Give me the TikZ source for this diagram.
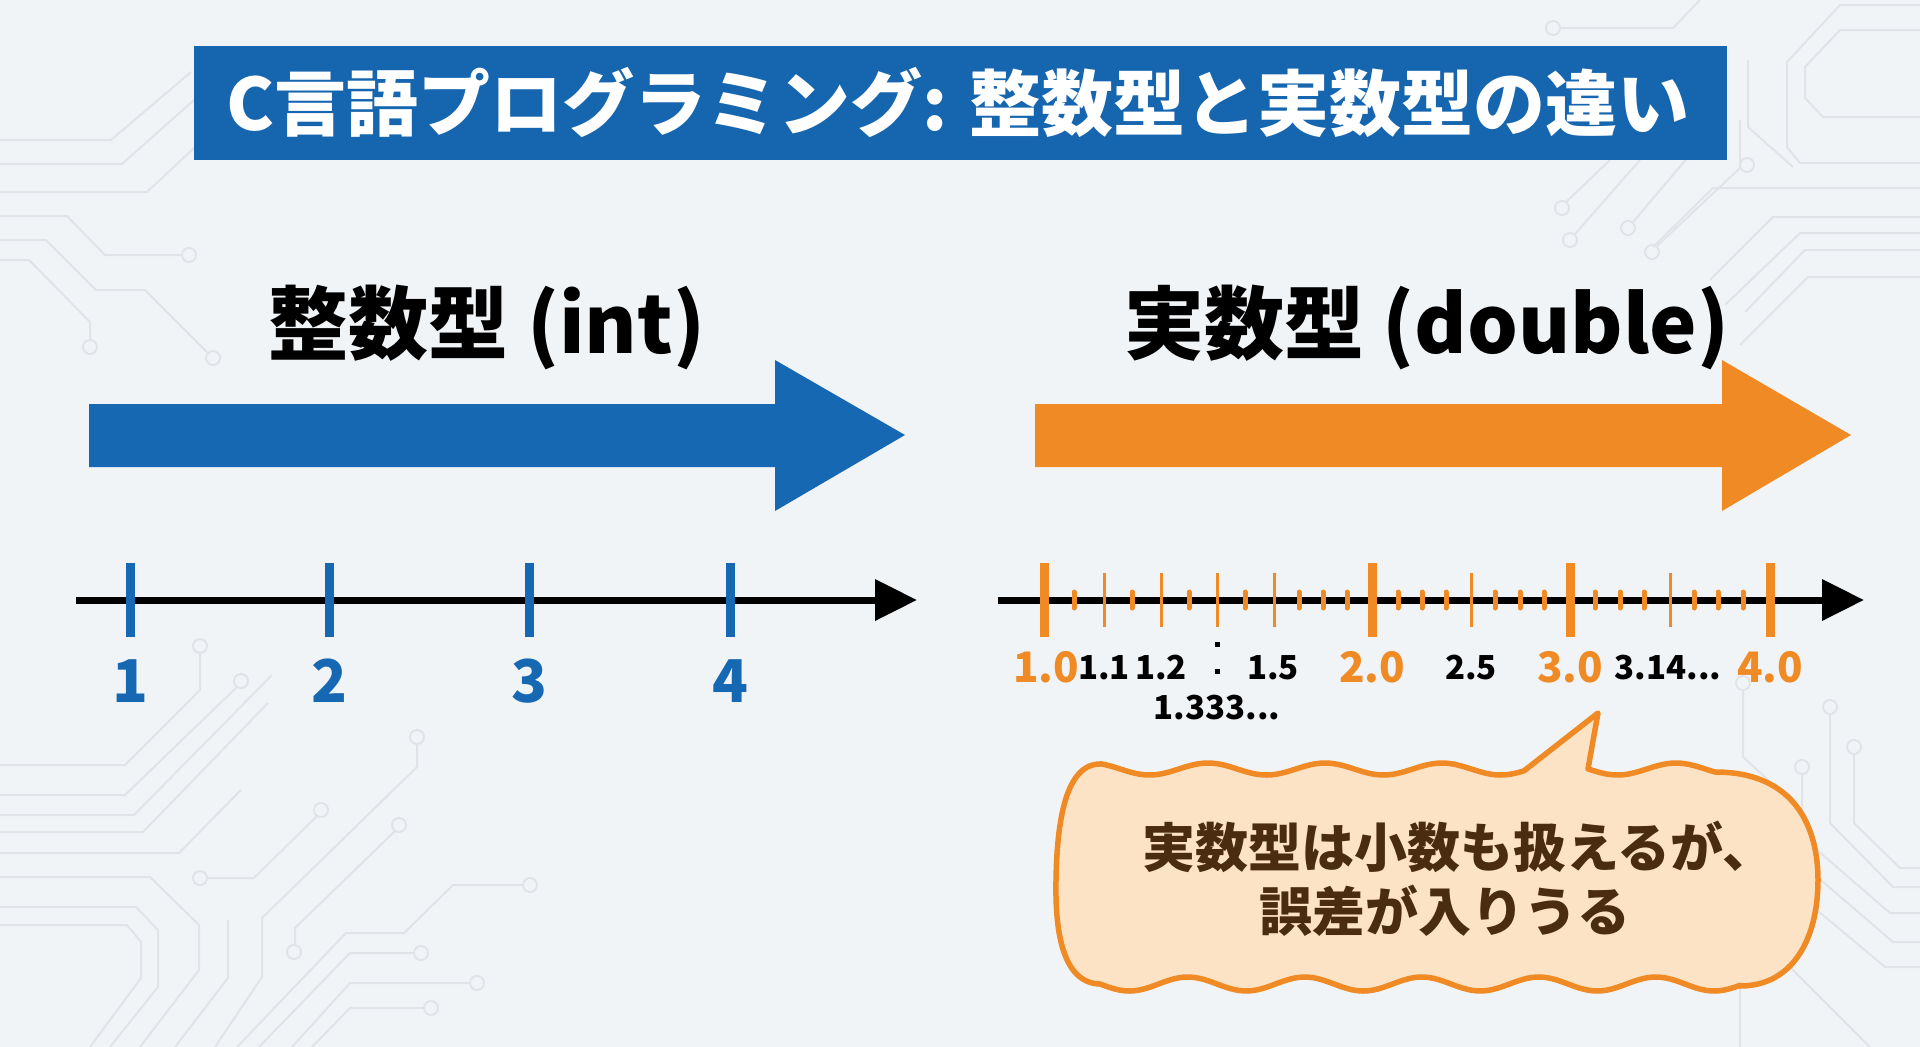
\documentclass[tikz,border=0pt]{standalone}
\usepackage{fontspec}
\setmainfont{Noto Sans CJK JP}
\usetikzlibrary{arrows.meta}
\definecolor{bg}{HTML}{F1F4F7}
\definecolor{trace}{HTML}{E0E4E9}
\definecolor{cblue}{HTML}{1668B3}
\definecolor{tblue}{HTML}{1565AF}
\definecolor{corange}{HTML}{EF8A24}
\definecolor{cfill}{HTML}{FDE3C5}
\definecolor{cbrown}{HTML}{4A2D10}
\tikzset{
  trace/.style={draw=trace, line width=2, line join=round},
  pad/.style={draw=trace, line width=2, fill=bg},
  axisline/.style={line width=7, -{Triangle[length=42pt,width=40pt]}},
  bigtick/.style={line width=9},
  midtick/.style={corange, line width=3},
  smalltick/.style={corange, line width=5, line cap=round},
  intlabel/.style={anchor=base, text=cblue, font=\fontsize{59}{64}\selectfont\bfseries, inner sep=0},
  orlabel/.style={anchor=base, text=corange, font=\fontsize{42}{46}\selectfont\bfseries, inner sep=0},
  bklabel/.style={anchor=base, text=black, font=\fontsize{33}{36}\selectfont\bfseries, inner sep=0},
  heading/.style={anchor=base, text=black, font=\fontsize{80}{90}\selectfont\bfseries, inner sep=0},
  calltext/.style={anchor=base, text=cbrown, inner sep=0, font=\fontsize{53}{58}\selectfont\bfseries},
}
\begin{document}
\begin{tikzpicture}[x=1pt,y=-1pt]
\fill[bg] (0,0) rectangle (1920,1047);
\useasboundingbox (0,0) rectangle (1920,1047);

% ---- faint circuit traces ----
% top left
\draw[trace] (0,140) -- (111,140) -- (191,72);
\draw[trace] (0,164) -- (122,164) -- (194,100);
\draw[trace] (0,192) -- (147,192) -- (194,148);
\draw[trace] (0,216) -- (67,216) -- (105,255) -- (182,255);
\draw[pad] (189,255) circle (7);
\draw[trace] (0,240) -- (46,240) -- (96,290) -- (145,290) -- (207,352);
\draw[pad] (213,358) circle (7);
\draw[trace] (0,260) -- (29,260) -- (90,322) -- (90,340);
\draw[pad] (90,347) circle (7);
% bottom left
\draw[trace] (200,653) -- (200,690) -- (125,765) -- (0,765);
\draw[pad] (200,646) circle (7);
\draw[trace] (237,687) -- (125,795) -- (0,795);
\draw[pad] (241,681) circle (7);
\draw[trace] (272,675) -- (134,815) -- (0,815);
\draw[trace] (268,703) -- (143,832) -- (0,832);
\draw[trace] (241,790) -- (179,853) -- (0,853);
\draw[trace] (0,877) -- (150,877) -- (199,925) -- (199,970) -- (140,1047);
\draw[trace] (0,907) -- (136,907) -- (158,930) -- (158,987) -- (110,1047);
\draw[trace] (0,925) -- (127,925) -- (141,942) -- (141,978) -- (90,1047);
\draw[trace] (207,878) -- (254,878) -- (317,816);
\draw[pad] (200,878) circle (7); \draw[pad] (321,810) circle (7);
\draw[trace] (417,744) -- (417,767) -- (262,918) -- (262,977) -- (215,1047);
\draw[pad] (417,737) circle (7);
\draw[trace] (395,831) -- (295,928) -- (295,945);
\draw[pad] (399,825) circle (7); \draw[pad] (294,952) circle (7);
\draw[trace] (523,885) -- (453,885) -- (404,933) -- (346,933) -- (237,1047);
\draw[pad] (530,885) circle (7);
\draw[trace] (414,953) -- (350,953) -- (259,1047);
\draw[pad] (421,953) circle (7);
\draw[trace] (470,983) -- (350,983) -- (292,1047);
\draw[pad] (477,983) circle (7);
\draw[trace] (424,1008) -- (350,1008) -- (312,1047);
\draw[pad] (431,1008) circle (7);
\draw[trace] (228,920) -- (228,978) -- (175,1047);
% top right
\draw[trace] (1560,28) -- (1673,28) -- (1700,0);
\draw[pad] (1553,28) circle (7);
\draw[trace] (1920,117) -- (1823,117) -- (1805,98) -- (1805,67) -- (1840,30) -- (1920,30);
\draw[trace] (1920,163) -- (1800,163) -- (1787,147) -- (1787,62) -- (1840,5) -- (1920,5);
\draw[trace] (1748,60) -- (1748,127) -- (1793,167);
\draw[trace] (1566,202) -- (1610,160);
\draw[pad] (1562,208) circle (7);
\draw[trace] (1575,234) -- (1640,160);
\draw[pad] (1570,240) circle (7);
\draw[trace] (1633,222) -- (1700,143) -- (1727,120);
\draw[pad] (1628,228) circle (7);
\draw[trace] (1657,246) -- (1740,168) -- (1740,120);
\draw[pad] (1652,252) circle (7);
\draw[pad] (1747,165) circle (7);
\draw[trace] (1920,188) -- (1713,188) -- (1653,247);
\draw[trace] (1920,217) -- (1773,217) -- (1710,280);
\draw[trace] (1920,233) -- (1800,233) -- (1725,305);
\draw[trace] (1920,250) -- (1805,250) -- (1745,312);
\draw[trace] (1920,277) -- (1808,277) -- (1740,345);
% bottom right
\draw[trace] (1743,690) -- (1743,757) -- (1790,800);
\draw[pad] (1743,683) circle (7);
\draw[trace] (1830,714) -- (1830,823) -- (1893,887) -- (1920,887);
\draw[pad] (1830,707) circle (7);
\draw[trace] (1854,754) -- (1854,823) -- (1900,868) -- (1920,868);
\draw[pad] (1854,747) circle (7);
\draw[trace] (1802,774) -- (1802,837) -- (1890,913) -- (1920,913);
\draw[pad] (1802,767) circle (7);
\draw[trace] (1920,942) -- (1893,942) -- (1815,875);
\draw[trace] (1920,967) -- (1885,967) -- (1805,900);
\draw[trace] (1740,1047) -- (1740,980) -- (1760,967) -- (1790,967) -- (1870,1047);

% ---- title ----
\fill[tblue] (194,46) rectangle (1727,160);
\node[anchor=base, text=white, inner sep=0, font=\fontsize{72}{80}\selectfont\bfseries] (title) at (958,130) {C言語プログラミング: 整数型と実数型の違い};

% ---- headings ----
\node[heading] (hint) at (487,353) {整数型 (int)};
\node[heading] (hdbl) at (1427,353) {実数型 (double)};

% ---- big arrows ----
\fill[cblue] (89,404) -- (775,404) -- (775,360) -- (905,435) -- (775,511) -- (775,467) -- (89,467) -- cycle;
\fill[corange] (1035,404) -- (1722,404) -- (1722,360) -- (1851,435) -- (1722,511) -- (1722,467) -- (1035,467) -- cycle;

% ---- integer number line ----
\coordinate (la) at (76,600);
\coordinate (lb) at (917,600);
\draw[axisline] (la) -- (lb);
\foreach \x/\n in {130/1,329/2,529/3,730/4}{
  \draw[bigtick, cblue] (\x,563) -- (\x,637);
  \node[intlabel] (int\n) at (\x,702) {\n};
}

% ---- real number line ----
\coordinate (ra) at (998,600);
\coordinate (rb) at (1864,600);
\draw[axisline] (ra) -- (rb);
\foreach \x in {1074,1132,1189,1245,1299,1323,1347,1398,1422,1446,1495,1520,1544,1595,1620,1644,1694,1718,1743}
  \draw[smalltick] (\x,592) -- (\x,608);
\foreach \x in {1104,1161,1217,1274,1471,1670}
  \draw[midtick] (\x,573) -- (\x,627);
\foreach \x in {1044,1372,1570,1770}
  \draw[bigtick, corange] (\x,563) -- (\x,637);
\node[orlabel] (r10) at (1046,682) {1.0};
\node[orlabel] (r20) at (1372,682) {2.0};
\node[orlabel] (r30) at (1570,682) {3.0};
\node[orlabel] (r40) at (1770,682) {4.0};
\node[bklabel] (r11) at (1104,679) {1.1};
\node[bklabel] (r12) at (1161,679) {1.2};
\node[bklabel] (r15) at (1273,679) {1.5};
\node[bklabel] (r25) at (1471,679) {2.5};
\node[bklabel] (r314) at (1668,679) {3.14...};
\node[bklabel] (r1333) at (1217,719) {1.333...};
\fill (1214.5,641.5) rectangle (1219.5,646.5);
\fill (1214.5,668.5) rectangle (1219.5,673.5);

% ---- callout ----
\path[fill=cfill, draw=corange, line width=5.5, line join=round]
  (1100,764)
  -- plot[domain=1100:1524, samples=90] (\x, {769-6*cos((\x-1208)*3.0769)})
  -- (1598,713)
  -- plot[domain=1588:1715, samples=30] (\x, {769-6*cos((\x-1208)*3.0769)})
  .. controls (1797,772) and (1818,830) .. (1818,880)
  .. controls (1818,940) and (1792,986) .. (1740,986)
  -- plot[domain=0:640, samples=130] ({1740-\x}, {984+7*sin((640-\x)*3.0769)})
  .. controls (1062,983) and (1055,930) .. (1056,880)
  .. controls (1057,820) and (1066,764) .. (1100,764) -- cycle;
\node[calltext] (c1) at (1459,867) {実数型は小数も扱えるが、};
\node[calltext] (c2) at (1445,931) {誤差が入りうる};
\end{tikzpicture}
\end{document}
